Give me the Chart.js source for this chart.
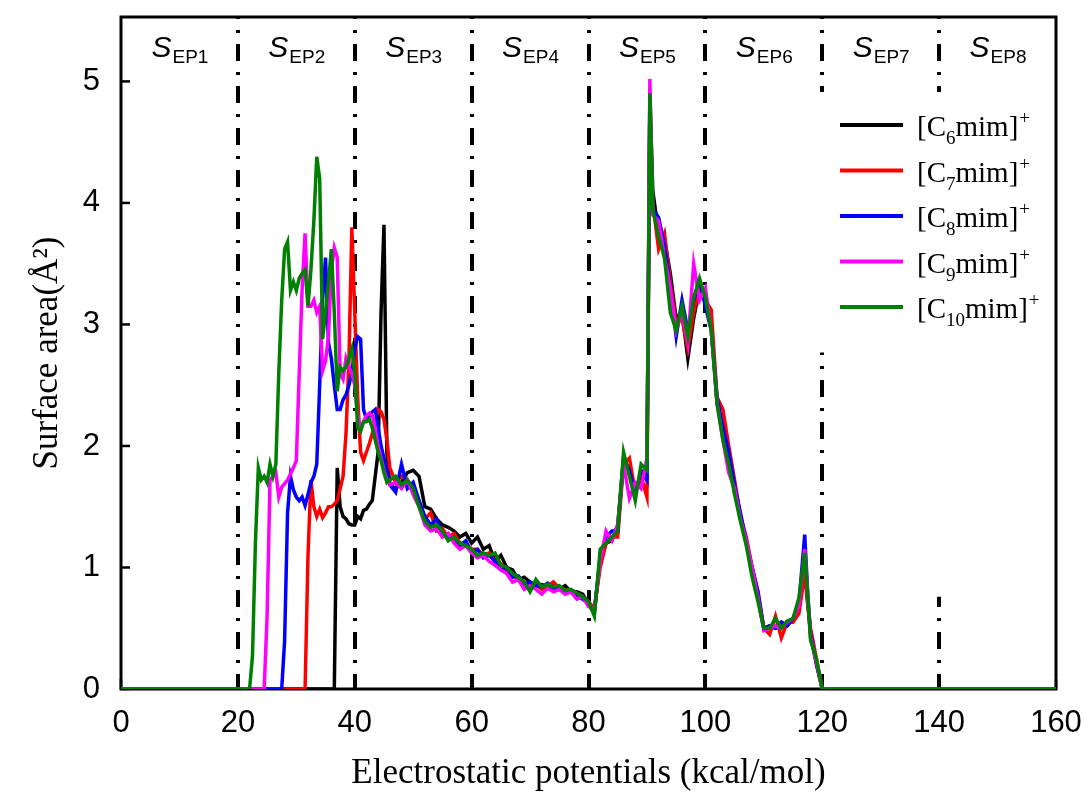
<!DOCTYPE html>
<html>
<head>
<meta charset="utf-8">
<script src="https://cdn.jsdelivr.net/npm/chart.js@4.4.1/dist/chart.umd.min.js"></script>
<style>
html,body{margin:0;padding:0;background:#ffffff;}
canvas{display:block;}
</style>
</head>
<body>
<canvas id="chart" width="1085" height="792"></canvas>
<script>
// Electrostatic potential grid (kcal/mol)
const potentials = [
  0,
  20,20.5,21,21.5,22,22.5,23,23.5,24,24.5,
  25,25.5,26,26.5,27,27.5,28,28.5,29,29.5,
  30,30.5,31,31.5,32,32.5,33,33.5,34,34.5,
  35,35.5,36,36.5,37,37.5,38,38.5,39,39.5,
  40,40.5,41,41.5,42,42.5,43,43.5,44,44.5,
  45,45.5,46,
  47,48,49,50,51,52,53,54,55,56,
  57,58,59,60,61,62,63,64,65,66,
  67,68,69,70,71,72,73,74,75,76,
  77,78,79,80,81,82,83,84,85,86,
  87,88,89,90,
  90.5,
  91,92,93,94,95,96,97,98,99,100,
  101,102,103,104,105,106,107,108,109,110,
  111,112,113,114,115,116,117,
  117.5,
  118,119,120,121,
  160
];

// Surface area (Å^2) of each cation
const c6 = [
  0,
  0,0,0,0,0,0,0,0,0,0,
  0,0,0,0,0,0,0,0,0,0,
  0,0,0,0,0,0,0,0,0,0,
  0,0,0,0,1.82,1.5,1.42,1.4,1.36,1.35,
  1.35,1.42,1.4,1.47,1.48,1.52,1.55,1.75,1.95,3.1,
  3.82,1.95,1.68,
  1.65,1.7,1.78,1.8,1.75,1.5,1.48,1.4,1.35,1.33,
  1.3,1.25,1.28,1.2,1.25,1.15,1.18,1.05,1.1,1.0,
  0.98,0.9,0.92,0.88,0.85,0.86,0.84,0.87,0.82,0.85,
  0.8,0.8,0.78,0.7,0.65,1.05,1.2,1.22,1.35,1.9,
  1.8,1.65,1.72,1.75,
  4.9,
  4.1,3.75,3.7,3.42,3.05,3.1,2.72,3.05,3.3,3.25,
  3.0,2.35,2.12,1.9,1.68,1.42,1.2,0.95,0.75,0.5,
  0.52,0.5,0.55,0.52,0.58,0.65,1.0,
  0.72,
  0.45,0.2,0,0,
  0
];
const c7 = [
  0,
  0,0,0,0,0,0,0,0,0,0,
  0,0,0,0,0,0,0,0,0,0,
  0,0,0,0,1.1,1.72,1.5,1.42,1.48,1.41,
  1.45,1.5,1.5,1.52,1.55,1.65,1.75,2.1,2.7,3.8,
  3.1,2.4,1.95,1.88,1.95,2.02,2.1,2.2,2.3,2.28,
  2.22,2.05,1.82,
  1.7,1.75,1.72,1.65,1.55,1.4,1.45,1.3,1.32,1.25,
  1.28,1.2,1.2,1.15,1.15,1.1,1.12,1.05,1.03,0.98,
  0.95,0.9,0.88,0.86,0.86,0.82,0.85,0.88,0.83,0.82,
  0.8,0.78,0.76,0.72,0.66,1.0,1.2,1.25,1.25,1.85,
  1.9,1.62,1.75,1.58,
  4.7,
  4.0,3.62,3.75,3.35,3.0,3.05,2.8,3.1,3.3,3.2,
  3.12,2.4,2.3,2.0,1.72,1.42,1.25,1.0,0.8,0.5,
  0.45,0.6,0.42,0.55,0.55,0.62,0.95,
  0.7,
  0.5,0.25,0,0,
  0
];
const c8 = [
  0,
  0,0,0,0,0,0,0,0,0,0,
  0,0,0,0,0,0,0.4,1.45,1.75,1.64,
  1.58,1.55,1.58,1.51,1.6,1.7,1.75,1.85,2.5,3.2,
  3.55,2.85,2.72,2.5,2.3,2.3,2.38,2.42,2.5,2.6,
  2.8,2.9,2.88,2.3,2.22,2.25,2.28,2.3,2.15,2.0,
  1.9,1.8,1.68,
  1.62,1.85,1.65,1.7,1.55,1.42,1.35,1.4,1.28,1.25,
  1.22,1.18,1.22,1.12,1.15,1.08,1.1,1.05,0.98,1.0,
  0.92,0.93,0.86,0.88,0.85,0.84,0.87,0.82,0.84,0.8,
  0.81,0.76,0.74,0.7,0.62,1.1,1.25,1.3,1.3,1.9,
  1.8,1.6,1.8,1.72,
  4.8,
  3.95,3.88,3.65,3.3,2.9,3.2,2.95,3.2,3.35,3.15,
  2.95,2.4,2.15,1.95,1.68,1.45,1.22,1.0,0.8,0.5,
  0.52,0.5,0.55,0.52,0.58,0.7,1.27,
  0.8,
  0.45,0.22,0,0,
  0
];
const c9 = [
  0,
  0,0,0,0,0,0,0,0,0,0,
  0.6,1.72,1.75,1.78,1.58,1.66,1.69,1.72,1.77,1.82,
  1.88,2.6,3.3,3.75,3.15,3.15,3.2,3.1,3.15,2.62,
  2.7,2.9,3.45,3.63,3.55,2.6,2.55,2.72,2.65,2.6,
  2.5,2.25,2.15,2.2,2.25,2.27,2.25,2.15,2.0,1.9,
  1.8,1.72,1.68,
  1.7,1.65,1.72,1.6,1.5,1.35,1.3,1.32,1.25,1.28,
  1.2,1.15,1.18,1.12,1.08,1.1,1.05,1.02,0.98,0.95,
  0.88,0.9,0.82,0.85,0.82,0.78,0.83,0.8,0.82,0.78,
  0.8,0.74,0.76,0.68,0.65,1.05,1.3,1.22,1.35,1.85,
  1.57,1.7,1.65,1.9,
  5.02,
  3.9,3.85,3.55,3.3,2.95,3.1,2.85,3.5,3.2,3.3,
  2.95,2.35,2.05,1.78,1.65,1.4,1.22,1.0,0.75,0.48,
  0.5,0.52,0.5,0.55,0.58,0.68,1.15,
  0.78,
  0.42,0.22,0,0,
  0
];
const c10 = [
  0,
  0,0,0,0,0,0.27,1.2,1.82,1.72,1.75,
  1.7,1.85,1.75,1.85,2.6,3.2,3.62,3.68,3.28,3.35,
  3.28,3.38,3.42,3.45,3.15,3.45,3.85,4.38,4.2,2.88,
  3.1,3.35,3.62,3.1,2.45,2.65,2.62,2.65,2.72,2.8,
  2.6,2.15,2.12,2.2,2.2,2.22,2.15,2.05,1.95,1.88,
  1.78,1.7,1.72,
  1.75,1.68,1.72,1.65,1.5,1.38,1.33,1.35,1.3,1.22,
  1.25,1.2,1.18,1.15,1.1,1.12,1.1,1.12,1.02,1.0,
  0.95,0.92,0.88,0.8,0.9,0.84,0.86,0.84,0.85,0.81,
  0.82,0.79,0.76,0.72,0.6,1.15,1.2,1.25,1.3,1.95,
  1.75,1.55,1.85,1.8,
  4.9,
  3.95,3.72,3.55,3.1,2.95,3.15,2.9,3.22,3.38,3.22,
  2.96,2.35,2.05,1.85,1.6,1.38,1.18,0.92,0.72,0.5,
  0.5,0.58,0.5,0.56,0.58,0.75,1.12,
  0.78,
  0.4,0.25,0,0,
  0
];

const seriesValues = [c6, c7, c8, c9, c10];
const seriesCarbons = ['6', '7', '8', '9', '10'];
const seriesColors = ['#000000', '#ff0000', '#0000ff', '#ff00ff', '#008000'];

// Region boundaries and labels
const regionBounds = [20, 40, 60, 80, 100, 120, 140];
const regionLabels = ['EP1', 'EP2', 'EP3', 'EP4', 'EP5', 'EP6', 'EP7', 'EP8'];
const xTicks = [0, 20, 40, 60, 80, 100, 120, 140, 160];
const yTicks = [0, 1, 2, 3, 4, 5];

const SANS = '"Liberation Sans", Arial, sans-serif';
const SERIF = '"Liberation Serif", "Times New Roman", serif';

const decor = {
  id: 'decor',
  beforeDatasetsDraw(chart) {
    const {ctx, chartArea: a, scales: {x, y}} = chart;
    ctx.save();
    // dash-dot region boundaries (gaps where the legend sits)
    const gaps = {120: [2.77, 4.9], 140: [0.76, 4.9]};
    ctx.strokeStyle = '#000';
    ctx.lineWidth = 4;
    ctx.lineCap = 'butt';
    ctx.setLineDash([17, 11, 3, 11]);
    regionBounds.forEach(b => {
      const px = Math.round(x.getPixelForValue(b));
      const g = gaps[b];
      const segs = g ? [[a.top, y.getPixelForValue(g[1])], [y.getPixelForValue(g[0]), a.bottom]] : [[a.top, a.bottom]];
      segs.forEach(([s, e]) => {
        ctx.lineDashOffset = 15 + (s - a.top);
        ctx.beginPath();
        ctx.moveTo(px, s);
        ctx.lineTo(px, e);
        ctx.stroke();
      });
    });
    ctx.setLineDash([]);
    // frame
    ctx.lineWidth = 3;
    ctx.strokeRect(a.left, a.top, a.right - a.left, a.bottom - a.top);
    // inward ticks
    ctx.lineWidth = 2.5;
    yTicks.forEach(v => {
      const py = y.getPixelForValue(v);
      ctx.beginPath(); ctx.moveTo(a.left, py); ctx.lineTo(a.left + 9, py); ctx.stroke();
    });
    xTicks.forEach(v => {
      const px = x.getPixelForValue(v);
      ctx.beginPath(); ctx.moveTo(px, a.bottom); ctx.lineTo(px, a.bottom - 10); ctx.stroke();
    });
    ctx.restore();
  },
  afterDatasetsDraw(chart) {
    const {ctx, chartArea: a, scales: {x}} = chart;
    ctx.save();
    ctx.fillStyle = '#000';
    ctx.textAlign = 'left';
    ctx.textBaseline = 'alphabetic';
    // region labels S_EPn
    const edges = [x.min, ...regionBounds, x.max];
    regionLabels.forEach((lab, i) => {
      const cx = x.getPixelForValue((edges[i] + edges[i + 1]) / 2);
      ctx.font = 'italic 30px ' + SANS;
      const wS = ctx.measureText('S').width;
      ctx.font = '19px ' + SANS;
      const wSub = ctx.measureText(lab).width;
      const x0 = cx - (wS + wSub) / 2;
      ctx.font = 'italic 30px ' + SANS;
      ctx.fillText('S', x0, a.top + 40);
      ctx.font = '19px ' + SANS;
      ctx.fillText(lab, x0 + wS + 1, a.top + 46);
    });
    // legend
    const boxL = a.right - 242, boxT = a.top + 75;
    ctx.fillStyle = '#fff';
    ctx.fillRect(boxL, boxT, 238, 258);
    const lx0 = a.right - 216, lx1 = a.right - 153, tx = a.right - 139;
    seriesCarbons.forEach((n, i) => {
      const yy = a.top + 108 + i * 45.5;
      ctx.strokeStyle = seriesColors[i];
      ctx.lineWidth = 4;
      ctx.beginPath(); ctx.moveTo(lx0, yy); ctx.lineTo(lx1, yy); ctx.stroke();
      ctx.fillStyle = '#000';
      let xx = tx;
      ctx.font = '29px ' + SERIF;
      ctx.fillText('[C', xx, yy + 11);
      xx += ctx.measureText('[C').width;
      ctx.font = '19px ' + SERIF;
      ctx.fillText(n, xx, yy + 19);
      xx += ctx.measureText(n).width;
      ctx.font = '29px ' + SERIF;
      ctx.fillText('mim]', xx, yy + 11);
      xx += ctx.measureText('mim]').width;
      ctx.font = '19px ' + SERIF;
      ctx.fillText('+', xx + 1, yy - 1);
    });
    ctx.restore();
  }
};

const datasets = seriesValues.map((vals, i) => ({
  label: '[C' + seriesCarbons[i] + 'mim]+',
  data: potentials.map((p, k) => ({x: p, y: vals[k]})),
  borderColor: seriesColors[i],
  backgroundColor: seriesColors[i],
  borderWidth: 3.5,
  pointRadius: 0,
  tension: 0,
  fill: false,
  order: seriesValues.length - 1 - i
}));

new Chart(document.getElementById('chart'), {
  type: 'line',
  data: {datasets},
  plugins: [decor],
  options: {
    responsive: false,
    animation: false,
    events: [],
    layout: {padding: {top: 17, right: 29, left: 0, bottom: 0}},
    plugins: {legend: {display: false}, tooltip: {enabled: false}},
    scales: {
      x: {
        type: 'linear', min: 0, max: 160,
        afterBuildTicks(s) { s.ticks = xTicks.map(v => ({value: v})); },
        afterFit(s) { s.height = 103; s.paddingLeft = 0; s.paddingRight = 0; },
        grid: {display: false}, border: {display: false},
        ticks: {color: '#000', font: {family: SANS, size: 31}, padding: 8, maxRotation: 0, autoSkip: false},
        title: {display: true, text: 'Electrostatic potentials (kcal/mol)', color: '#000',
                font: {family: SERIF, size: 35}, padding: {top: 0, bottom: -3}}
      },
      y: {
        type: 'linear', min: 0, max: 5.53,
        afterBuildTicks(s) { s.ticks = yTicks.map(v => ({value: v})); },
        afterFit(s) { s.width = 121; s.paddingTop = 0; s.paddingBottom = 0; },
        grid: {display: false}, border: {display: false},
        ticks: {color: '#000', font: {family: SANS, size: 31}, padding: 13},
        title: {display: true, text: 'Surface area(Å²)', color: '#000',
                font: {family: SERIF, size: 35}, padding: {top: 27, bottom: 0}}
      }
    }
  }
});
</script>
</body>
</html>
